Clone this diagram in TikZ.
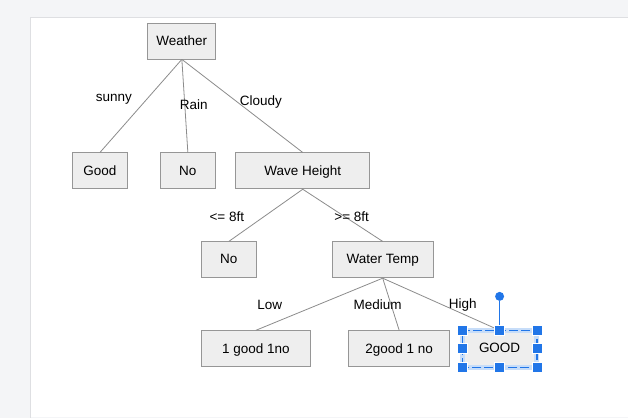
\documentclass[tikz,border=0pt]{standalone}
\usepackage{fontspec}
\setmainfont{Liberation Sans}
\usetikzlibrary{calc}
\definecolor{pagegray}{RGB}{244, 245, 247}
\definecolor{frameline}{RGB}{222, 223, 226}
\definecolor{edgegray}{RGB}{140, 140, 140}
\definecolor{boxfill}{RGB}{238, 238, 238}
\definecolor{boxline}{RGB}{150, 150, 150}
\definecolor{selblue}{RGB}{33, 118, 232}
\tikzset{
  treebox/.style={
    draw=boxline,
    fill=boxfill,
    minimum height=36pt,
    inner sep=0pt,
    line width=0.8pt,
    text depth=1pt,
    font=\fontsize{13.5}{16}\selectfont
  },
  treeedge/.style={
    draw=edgegray,
    line width=0.8pt
  },
  edgelabel/.style={
    inner sep=0pt,
    font=\fontsize{13.5}{16}\selectfont
  },
  selhandle/.style={
    draw=white,
    fill=selblue,
    line width=0.8pt,
    minimum size=10pt,
    inner sep=0pt
  }
}

\begin{document}
\begin{tikzpicture}[x=1pt, y=-1pt]
  % editor page
  \fill[pagegray] (0,0) rectangle (628,418);
  \fill[white] (31,18) rectangle (628,417);
  \draw[frameline, line width=1pt] (30.5,418) |- (628,17.5);

  % tree nodes
  \node[treebox, minimum width=68pt] (weather) at (182,41) {Weather};
  \node[treebox, minimum width=55pt] (good) at (100,171) {Good};
  \node[treebox, minimum width=55pt] (rainno) at (188,171) {No};
  \node[treebox, minimum width=134pt] (wave) at (303,171) {Wave Height};
  \node[treebox, minimum width=55pt] (lowno) at (229,260) {No};
  \node[treebox, minimum width=101pt] (temp) at (383,260) {Water Temp};
  \node[treebox, minimum width=109pt] (lowres) at (256,349) {1 good 1no};
  \node[treebox, minimum width=101pt] (midres) at (399.5,349) {2good 1 no};
  \node[treebox, minimum width=74pt] (highres) at (500,349) {GOOD};

  % branches
  \draw[treeedge] (weather.south) -- (good.north);
  \draw[treeedge] (weather.south) -- (rainno.north);
  \draw[treeedge] (weather.south) -- (wave.north);
  \draw[treeedge] (wave.south) -- (lowno.north);
  \draw[treeedge] (wave.south) -- (temp.north);
  \draw[treeedge] (temp.south) -- (lowres.north);
  \draw[treeedge] (temp.south) -- (midres.north);
  \draw[treeedge] (temp.south) -- (highres.north);

  % branch labels
  \node[edgelabel] (sunny) at (114,99) {sunny};
  \node[edgelabel] (rain) at (194,105) {Rain};
  \node[edgelabel] (cloudy) at (261,102) {Cloudy};
  \node[edgelabel] (small) at (227,217) {<= 8ft};
  \node[edgelabel] (large) at (352,217) {>= 8ft};
  \node[edgelabel] (low) at (270,305) {Low};
  \node[edgelabel] (medium) at (378,305) {Medium};
  \node[edgelabel] (high) at (463,305) {High};

  % selection on GOOD
  \draw[selblue!25, line width=5pt] (highres.south west) rectangle (highres.north east);
  \draw[selblue, dash pattern=on 9pt off 3pt, line width=1.2pt] (highres.south west) rectangle (highres.north east);
  \node[circle, fill=selblue, minimum size=9pt, inner sep=0pt] (rotate) at ($(highres.north)+(0,-34)$) {};
  \draw[selblue, line width=1.5pt] (rotate) -- (highres.north);
  \foreach \a/\n in {north west/hnw, north/hn, north east/hne, west/hw, east/he, south west/hsw, south/hs, south east/hse}
    \node[selhandle] (\n) at (highres.\a) {};
\end{tikzpicture}
\end{document}
